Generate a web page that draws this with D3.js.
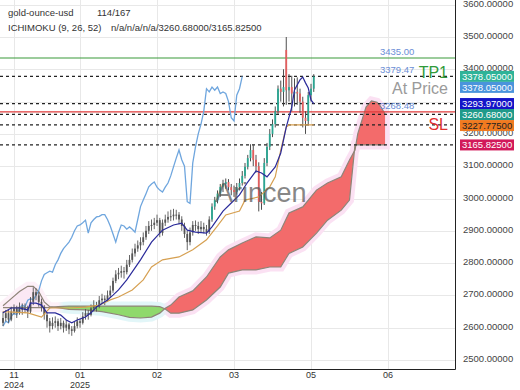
<!DOCTYPE html>
<html><head><meta charset="utf-8">
<script src="https://cdn.jsdelivr.net/npm/d3@7"></script>
<style>body{margin:0;background:#fff}svg{display:block;font-family:"Liberation Sans",Arial,sans-serif}</style>
</head><body><svg id="c" width="520" height="390"></svg>
<script>
const open = [2615,2630,2645,2625,2650,2660,2645,2665,2655,2660,
2650,2680,2710,2700,2680,2665,2640,2620,2605,2615,
2620,2605,2615,2600,2610,2595,2590,2605,2620,2615,
2635,2645,2640,2660,2670,2665,2685,2690,2686,2700,
2715,2745,2765,2770,2775,2772,2795,2810,2830,2845,
2855,2865,2880,2900,2915,2918,2925,2933,2893,2925,
2935,2943,2945,2950,2950,2935,2915,2890,2865,2895,
2918,2915,2905,2912,2905,2896,2935,2975,2995,3015,
3036,3045,3051,3035,3026,3020,3035,3048,3070,3098,
3125,3150,3120,3100,2990,2985,3110,3160,3200,3230,
3270,3340,3330,3460,3335,3345,3325,3330,3325,3300,
3250,3240,3320,3340];
const high = [2650,2655,2655,2665,2672,2668,2678,2675,2675,2668,
2695,2725,2722,2712,2690,2670,2648,2630,2632,2635,
2628,2630,2622,2625,2615,2605,2618,2632,2628,2648,
2658,2655,2672,2685,2680,2698,2705,2700,2715,2730,
2755,2778,2785,2792,2788,2810,2825,2845,2860,2870,
2880,2895,2915,2930,2935,2940,2950,2940,2935,2950,
2960,2965,2968,2965,2958,2945,2925,2900,2910,2930,
2932,2928,2930,2925,2918,2945,2985,3005,3025,3045,
3058,3062,3060,3045,3040,3048,3062,3085,3110,3135,
3168,3165,3135,3112,3020,3125,3172,3215,3245,3285,
3350,3365,3400,3500,3385,3380,3372,3375,3340,3315,
3270,3330,3355,3385];
const low = [2605,2620,2615,2620,2640,2630,2640,2640,2645,2630,
2645,2670,2685,2665,2650,2625,2600,2585,2595,2600,
2590,2595,2585,2590,2580,2575,2585,2598,2600,2610,
2625,2625,2635,2650,2650,2660,2675,2670,2680,2692,
2708,2738,2750,2755,2752,2765,2788,2802,2820,2835,
2840,2855,2872,2890,2900,2905,2915,2880,2885,2915,
2925,2930,2932,2935,2920,2900,2878,2840,2855,2885,
2900,2890,2895,2892,2885,2890,2928,2965,2985,3005,
3020,3030,3025,3010,3005,3012,3025,3040,3062,3090,
3115,3100,3080,2960,2965,2980,3100,3150,3190,3220,
3262,3300,3285,3290,3300,3270,3285,3290,3265,3220,
3200,3230,3300,3330];
const close = [2630,2645,2625,2650,2660,2645,2665,2655,2660,2650,
2680,2710,2700,2680,2665,2640,2620,2605,2615,2620,
2605,2615,2600,2610,2595,2590,2605,2620,2615,2635,
2645,2640,2660,2670,2665,2685,2690,2686,2700,2715,
2745,2765,2770,2775,2772,2795,2810,2830,2845,2855,
2865,2880,2900,2915,2918,2925,2933,2893,2925,2935,
2943,2945,2950,2950,2935,2915,2890,2865,2895,2918,
2915,2905,2912,2905,2896,2935,2975,2995,3015,3036,
3045,3051,3035,3026,3020,3035,3048,3070,3098,3125,
3150,3120,3100,2990,2985,3110,3160,3200,3230,3270,
3340,3330,3345,3335,3345,3325,3330,3325,3300,3250,
3240,3320,3340,3378.05];

const tenkanIdx = [0,3,6,9,10,12,14,16,19,21,23,25,27,30,32,34,38,40,42,45,50,54,58,62,65,67,70,74,76,80,83,86,89,92,94,96,99,101,103,105,106,108,109,110,111,112,113];
const tenkanVal = [2646,2661,2661,2655,2676,2676,2670,2646,2646,2639,2624,2615,2624,2633,2646,2664,2686,2701,2717,2748,2810,2865,2902,2918,2924,2902,2896,2893,2912,2961,2986,3011,3051,3085,3079,3067,3098,3141,3221,3283,3336,3367,3376,3358,3342,3305,3293.97];
const kijunIdx = [0,9,14,17,24,30,35,39,42,47,51,54,58,64,69,74,78,81,86,88,93,97,99,101,103,104,113];
const kijunVal = [2650,2646,2633,2661,2661,2664,2670,2686,2695,2717,2748,2788,2810,2819,2841,2872,2915,2949,2961,2995,3005,3036,3067,3150,3221,3227.775,3227.775];
const chikouLag = 26;

const cloudIdx = [0,3,6,9,11,13,15,17,20,24,30,36,42,46,50,54,57,59,61,64,69,74,79,82,87,92,97,101,104,109,114,118,123,126,128,129,132,134,136,137,139];
const spanA = [2668,2690,2712,2728,2728,2712,2680,2665,2662,2657,2655,2650,2640,2632,2630,2633,2645,2660,2670,2695,2714,2757,2819,2841,2862,2881,2878,2902,2955,2974,3026,3048,3067,3119,3150,3200,3283,3302,3298,3289,3260.68];
const spanB = [2662,2662,2662,2662,2662,2662,2662,2662,2665,2667,2667,2667,2667,2667,2667,2667,2665,2658,2645,2645,2655,2686,2726,2769,2779,2779,2788,2788,2830,2850,2893,2933,2964,2995,3166,3166,3166,3166,3166,3166,3165.825];

const yTicks = [2500,2600,2700,2800,2900,3000,3100,3200,3300,3400,3500,3600];
const tickIdx = [4,28,56,84,112,140];
const tickMonth = ["11","01","02","03","05","06"];
const tickYear = ["2024","2025","","","",""];

const dashedLevels = [3378.05,3293.97,3260.68,3227.775,3165.825];
const tpLevel = 3435.00, slLevel = 3268.48, tp1Level = 3379.47;
const tagVals = [3378.05,3378.05,3293.97,3260.68,3227.775,3165.825];
const tagColors = ["#2eb398","#4a94dc","#1414c8","#1f9a8a","#f07a20","#d2195a"];
const tagText = ["#fff","#fff","#fff","#fff","#222","#fff"];

const plotR = 455, plotB = 369;
const x = d3.scaleLinear().domain([0,140]).range([3,388]);
const y = d3.scaleLinear().domain([2500,3500]).range([360,37]);
const svg = d3.select('#c');
const defs = svg.append('defs');
defs.append('clipPath').attr('id','plot').append('rect').attr('x',0).attr('y',0).attr('width',plotR).attr('height',plotB);

// grid
const grid = svg.append('g');
grid.selectAll('line.h').data(yTicks).join('line').attr('x1',0).attr('x2',plotR)
  .attr('y1',d=>Math.round(y(d))+0.5).attr('y2',d=>Math.round(y(d))+0.5).attr('stroke','#e8e8e8');
grid.selectAll('line.v').data(tickIdx).join('line').attr('y1',0).attr('y2',plotB)
  .attr('x1',d=>Math.round(x(d))+0.5).attr('x2',d=>Math.round(x(d))+0.5).attr('stroke','#e8e8e8');

const g = svg.append('g').attr('clip-path','url(#plot)');

// cloud
const cloud = cloudIdx.map((d,k)=>({i:d,a:spanA[k],b:spanB[k]}));
const areaAB = d3.area().x(d=>x(d.i)).y0(d=>y(d.b)).y1(d=>y(d.a));
defs.append('clipPath').attr('id','aboveB').append('path').attr('d', d3.area().x(d=>x(d.i)).y0(0).y1(d=>y(d.b))(cloud));
defs.append('clipPath').attr('id','belowB').append('path').attr('d', d3.area().x(d=>x(d.i)).y0(plotB).y1(d=>y(d.b))(cloud));
const fx = i => (x(i)/plotR).toFixed(4);
const redG = defs.append('linearGradient').attr('id','redG').attr('gradientUnits','userSpaceOnUse').attr('x1',0).attr('x2',plotR).attr('y1',0).attr('y2',0);
[[0,'#fbe8f4'],[fx(19),'#fbe8f4'],[fx(22),'#f36b6b'],[1,'#f36b6b']].forEach(s=>redG.append('stop').attr('offset',s[0]).attr('stop-color',s[1]));
const haloG = defs.append('linearGradient').attr('id','haloG').attr('gradientUnits','userSpaceOnUse').attr('x1',0).attr('x2',plotR).attr('y1',0).attr('y2',0);
[[0,'#fdf0f8'],[fx(20),'#fdf0f8'],[fx(22),'#e2f6f8'],[fx(58),'#e2f6f8'],[fx(60),'#fbe1f3'],[1,'#fbe1f3']].forEach(s=>haloG.append('stop').attr('offset',s[0]).attr('stop-color',s[1]));

g.append('path').attr('d',areaAB(cloud)).attr('fill','url(#haloG)').attr('stroke','url(#haloG)').attr('stroke-width',9).attr('stroke-linejoin','miter');
g.append('path').attr('d',areaAB(cloud)).attr('fill','url(#redG)').attr('clip-path','url(#aboveB)');
g.append('path').attr('d',areaAB(cloud)).attr('fill','#8fd96c').attr('clip-path','url(#belowB)');
const lineA = d3.line().x(d=>x(d.i)).y(d=>y(d.a));
const lineB = d3.line().x(d=>x(d.i)).y(d=>y(d.b));
g.append('path').attr('d',lineA(cloud)).attr('fill','none').attr('stroke','#8e8478').attr('stroke-width',1.2);
g.append('path').attr('d',lineB(cloud)).attr('fill','none').attr('stroke','#8e8478').attr('stroke-width',1.2);

// level lines
g.selectAll('line.dl').data(dashedLevels).join('line').attr('x1',0).attr('x2',plotR)
  .attr('y1',d=>y(d)).attr('y2',d=>y(d)).attr('stroke','#222').attr('stroke-width',1.3).attr('stroke-dasharray','3,3');
g.append('line').attr('x1',0).attr('x2',plotR).attr('y1',y(tpLevel)).attr('y2',y(tpLevel)).attr('stroke','#3a9a3a').attr('stroke-width',1.2);
g.append('line').attr('x1',0).attr('x2',plotR).attr('y1',y(slLevel)).attr('y2',y(slLevel)).attr('stroke','#e03a3a').attr('stroke-width',1.2);

// chikou
const chik = close.slice(chikouLag).map((c,k)=>({i:k,v:c}));
g.append('path').attr('d',d3.line().x(d=>x(d.i)).y(d=>y(d.v))(chik)).attr('fill','none').attr('stroke','#6fa6de').attr('stroke-width',1.3);

// candles
const bars = close.map((c,i)=>({i,o:open[i],h:high[i],l:low[i],c}));
const colored = 76;
g.selectAll('line.w').data(bars).join('line').attr('x1',d=>x(d.i)).attr('x2',d=>x(d.i))
  .attr('y1',d=>y(d.h)).attr('y2',d=>y(d.l)).attr('stroke',d=>d.i<colored?'#555':'#3a3a3a').attr('stroke-width',0.9);
g.selectAll('rect.b').data(bars).join('rect').attr('x',d=>x(d.i)-0.9).attr('width',1.8)
  .attr('y',d=>y(Math.max(d.o,d.c))).attr('height',d=>Math.max(1,Math.abs(y(d.o)-y(d.c))))
  .attr('fill',d=>d.i<colored?'#555':(d.c>=d.o?'#2aa793':'#e35d5d'));

// kijun, tenkan
g.append('path').attr('d',d3.line().x(d=>x(d[0])).y(d=>y(d[1]))(kijunIdx.map((d,k)=>[d,kijunVal[k]])))
  .attr('fill','none').attr('stroke','#d6a052').attr('stroke-width',1.2);
g.append('path').attr('d',d3.line().x(d=>x(d[0])).y(d=>y(d[1]))(tenkanIdx.map((d,k)=>[d,tenkanVal[k]])))
  .attr('fill','none').attr('stroke','#2a2a9a').attr('stroke-width',1.2);

// watermark
svg.append('text').attr('x',215).attr('y',202).attr('font-size',27).attr('fill','#555').attr('opacity',0.7).text('Arincen');

// annotations
const annoC = '#6b8ed6';
svg.append('text').attr('x',380).attr('y',y(tpLevel)-3).attr('font-size',9.5).attr('fill',annoC).text(tpLevel.toFixed(2));
svg.append('text').attr('x',380).attr('y',y(tp1Level)-3).attr('font-size',9.5).attr('fill',annoC).text(tp1Level.toFixed(2));
svg.append('text').attr('x',380).attr('y',y(slLevel)-3).attr('font-size',9.5).attr('fill',annoC).text(slLevel.toFixed(2));
svg.append('text').attr('x',448).attr('y',78).attr('text-anchor','end').attr('font-size',16).attr('fill','#2f9a3a').text('TP1');
svg.append('text').attr('x',448).attr('y',94).attr('text-anchor','end').attr('font-size',16).attr('fill','#9a9a9a').text('At Price');
svg.append('text').attr('x',448).attr('y',130).attr('text-anchor','end').attr('font-size',16).attr('fill','#e03030').text('SL');

// axes borders
svg.append('line').attr('x1',plotR+0.5).attr('x2',plotR+0.5).attr('y1',0).attr('y2',plotB+0.5).attr('stroke','#222');
svg.append('line').attr('x1',0).attr('x2',plotR+0.5).attr('y1',plotB+0.5).attr('y2',plotB+0.5).attr('stroke','#222');

// tags positions
let prev = -100;
const tagY = tagVals.map(v=>{let t=Math.max(y(v), prev+11); prev=t; return t;});

// y labels (those fully covered by a tag are not drawn)
const yLab = yTicks.filter(d=>!tagY.some(t=>Math.abs(t-(y(d)-1.5))<4));
svg.selectAll('text.yl').data(yLab).join('text').attr('x',463).attr('y',d=>y(d)+2)
  .attr('font-size',9.5).attr('fill','#444').text(d=>d.toFixed(5));

// x labels
svg.selectAll('text.xm').data(tickIdx).join('text').attr('x',d=>x(d)).attr('y',377.5).attr('text-anchor','middle')
  .attr('font-size',9).attr('fill','#333').text((d,k)=>tickMonth[k]);
svg.selectAll('text.xy').data(tickIdx).join('text').attr('x',d=>x(d)).attr('y',387.5).attr('text-anchor','middle')
  .attr('font-size',9).attr('fill','#333').text((d,k)=>tickYear[k]);

// tags
const tg = svg.append('g');
tagVals.forEach((v,k)=>{
  tg.append('rect').attr('x',460).attr('y',tagY[k]-5.5).attr('width',54).attr('height',11).attr('fill',tagColors[k]);
  tg.append('text').attr('x',462).attr('y',tagY[k]+3.5).attr('font-size',9.5).attr('fill',tagText[k]).text(v.toFixed(5));
});

// legend
const lg = svg.append('g').attr('font-size',9.5).attr('fill','#333');
lg.append('text').attr('x',8).attr('y',16).text('gold-ounce-usd');
lg.append('text').attr('x',97).attr('y',16).text('114/167');
lg.append('text').attr('x',8).attr('y',31).text('ICHIMOKU (9, 26, 52)');
lg.append('text').attr('x',111).attr('y',31).text('n/a/n/a/n/a/3260.68000/3165.82500');
</script></body></html>
